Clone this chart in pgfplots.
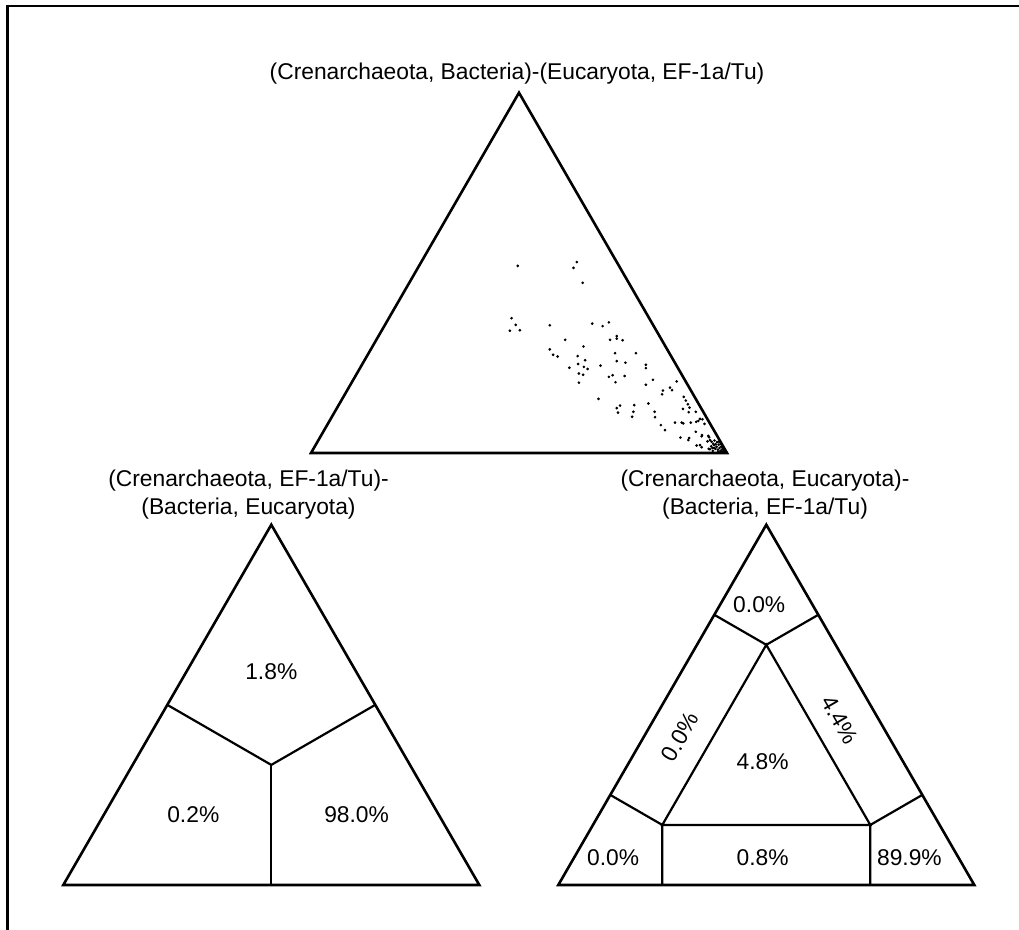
\documentclass[border=0pt]{standalone}
\usepackage{pgfplots}
\pgfplotsset{compat=1.18}
\usepackage{fontspec}
\setmainfont{Liberation Sans}
\pgfplotsset{tern/.style={scale only axis, width=208pt, height=180.133pt,
  xmin=0, xmax=1, ymin=0, ymax=0.866025, hide axis, clip=false, anchor=south west},
  edge/.style={black, line width=1.3pt, no marks, line join=miter},
  part/.style={black, line width=1.1pt, no marks}}
\begin{document}
\fontsize{11.4}{14}\selectfont
\begin{tikzpicture}
\useasboundingbox (0,0) rectangle (509.5pt,465pt);
\draw[line width=1.1pt] (3.75pt,0) -- (3.75pt,462pt) -- (509.5pt,462pt);
% top: scatter
\begin{axis}[tern, at={(155.5pt,238.5pt)}]
\addplot[edge] coordinates {(0,0) (1,0) (0.5,0.866025)} --cycle;
\addplot[only marks, mark=*, mark size=0.45pt, black] table {
x y
0.497 0.450
0.639 0.459
0.631 0.445
0.653 0.409
0.482 0.324
0.492 0.308
0.478 0.294
0.502 0.295
0.574 0.307
0.676 0.311
0.701 0.305
0.716 0.314
0.611 0.272
0.719 0.272
0.735 0.281
0.735 0.275
0.749 0.271
0.655 0.256
0.574 0.249
0.582 0.236
0.593 0.232
0.641 0.233
0.731 0.240
0.781 0.240
0.659 0.223
0.642 0.214
0.621 0.205
0.656 0.207
0.665 0.202
0.735 0.221
0.756 0.217
0.696 0.210
0.805 0.212
0.805 0.204
0.644 0.191
0.654 0.188
0.644 0.169
0.716 0.183
0.725 0.187
0.754 0.185
0.732 0.170
0.822 0.176
0.805 0.164
0.879 0.172
0.846 0.150
0.844 0.141
0.863 0.157
0.868 0.151
0.691 0.130
0.896 0.135
0.901 0.126
0.906 0.117
0.910 0.109
0.894 0.106
0.908 0.098
0.925 0.099
0.743 0.114
0.735 0.108
0.738 0.097
0.777 0.115
0.811 0.119
0.775 0.099
0.772 0.087
0.826 0.099
0.827 0.086
0.935 0.082
0.931 0.077
0.941 0.081
0.926 0.075
0.841 0.067
0.851 0.055
0.875 0.073
0.891 0.073
0.895 0.071
0.913 0.073
0.925 0.051
0.939 0.040
0.888 0.037
0.909 0.036
0.907 0.031
0.955 0.041
0.959 0.031
0.963 0.027
0.967 0.022
0.927 0.018
0.935 0.019
0.939 0.014
0.956 0.010
0.959 0.009
0.946 0.070
0.940 0.043
0.957 0.038
0.953 0.028
0.969 0.019
0.965 0.012
0.972 0.010
0.975 0.015
0.978 0.008
0.980 0.020
0.982 0.012
0.984 0.005
0.986 0.015
0.988 0.008
0.990 0.012
0.991 0.004
0.993 0.008
0.995 0.003
0.976 0.026
0.970 0.030
0.966 0.005
0.962 0.016
0.979 0.003
0.985 0.022
0.973 0.021
0.987 0.002
0.969 0.012
0.981 0.027
};
\end{axis}
% bottom left
\begin{axis}[tern, at={(31.65pt,22.5pt)}]
\addplot[edge] coordinates {(0,0) (1,0) (0.5,0.866025)} --cycle;
\addplot[part] coordinates {(0.25,0.433013) (0.5,0.288675) (0.75,0.433013)};
\addplot[part] coordinates {(0.5,0.288675) (0.5,0)};
\node at (axis cs:0.5,0.513) {1.8\%};
\node at (axis cs:0.3125,0.168) {0.2\%};
\node at (axis cs:0.705,0.168) {98.0\%};
\end{axis}
% bottom right
\begin{axis}[tern, at={(279.15pt,22.5pt)}]
\addplot[edge] coordinates {(0,0) (1,0) (0.5,0.866025)} --cycle;
\addplot[part] coordinates {(0.25,0.144338) (0.75,0.144338) (0.5,0.577350)} --cycle;
\addplot[part] coordinates {(0.375,0.649519) (0.5,0.577350) (0.625,0.649519)};
\addplot[part] coordinates {(0.125,0.216506) (0.25,0.144338) (0.25,0)};
\addplot[part] coordinates {(0.875,0.216506) (0.75,0.144338) (0.75,0)};
\node at (axis cs:0.483,0.673) {0.0\%};
\node[rotate=60] at (axis cs:0.2925,0.3565) {0.0\%};
\node[rotate=-60] at (axis cs:0.677,0.397) {4.4\%};
\node at (axis cs:0.491,0.296) {4.8\%};
\node at (axis cs:0.132,0.0656) {0.0\%};
\node at (axis cs:0.491,0.0656) {0.8\%};
\node at (axis cs:0.844,0.0656) {89.9\%};
\end{axis}
\node[anchor=base] at (258.5pt,425pt) {(Crenarchaeota, Bacteria)-(Eucaryota, EF-1a/Tu)};
\node[anchor=base] at (124.25pt,221.5pt) {(Crenarchaeota, EF-1a/Tu)-};
\node[anchor=base] at (124.25pt,207.5pt) {(Bacteria, Eucaryota)};
\node[anchor=base] at (382.5pt,221.5pt) {(Crenarchaeota, Eucaryota)-};
\node[anchor=base] at (382.5pt,207.5pt) {(Bacteria, EF-1a/Tu)};
\end{tikzpicture}
\end{document}
